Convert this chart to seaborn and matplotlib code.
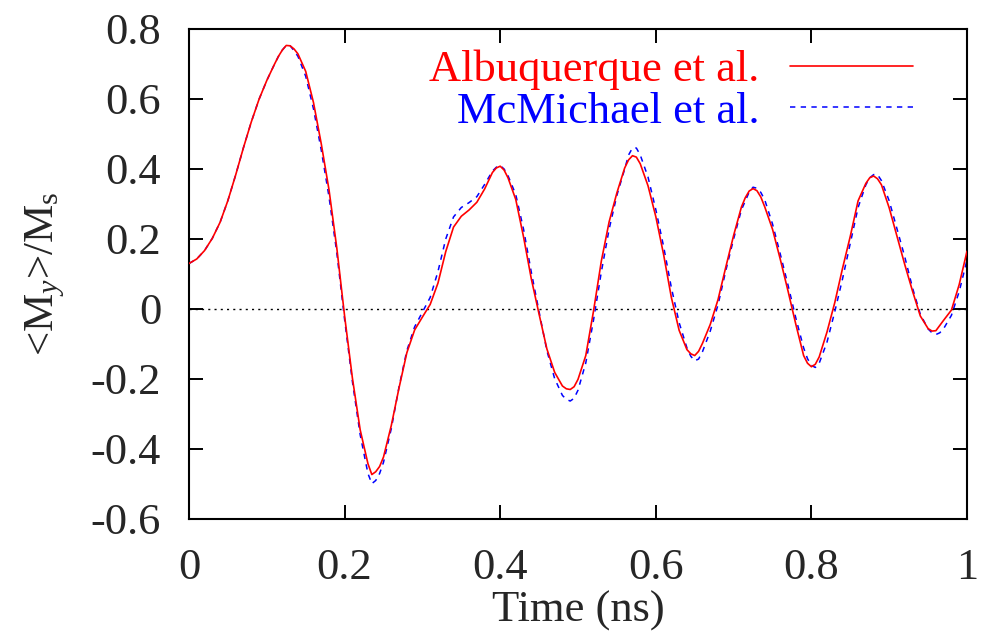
import numpy as np
import pandas as pd
import matplotlib
matplotlib.use("Agg")
import matplotlib.pyplot as plt
import seaborn as sns

# ---- data ----
time_ns = [round(i * 0.01, 2) for i in range(101)]

albuquerque = [
    0.130, 0.143, 0.167, 0.202, 0.248, 0.310, 0.383, 0.461, 0.534, 0.599,
    0.653, 0.700, 0.740, 0.752, 0.729, 0.679, 0.590, 0.472, 0.340, 0.174,
    -0.020, -0.197, -0.345, -0.442, -0.465, -0.423, -0.333, -0.225, -0.125, -0.060,
    -0.023, 0.013, 0.074, 0.164, 0.234, 0.265, 0.283, 0.305, 0.343, 0.390,
    0.408, 0.375, 0.313, 0.206, 0.086, -0.015, -0.114, -0.181, -0.220, -0.230,
    -0.201, -0.133, -0.005, 0.137, 0.249, 0.332, 0.403, 0.438, 0.415, 0.352,
    0.264, 0.156, 0.033, -0.061, -0.116, -0.133, -0.098, -0.044, 0.027, 0.120,
    0.210, 0.291, 0.337, 0.338, 0.292, 0.228, 0.142, 0.051, -0.044, -0.133,
    -0.165, -0.137, -0.066, 0.018, 0.116, 0.208, 0.309, 0.359, 0.380, 0.355,
    0.289, 0.208, 0.127, 0.051, -0.020, -0.056, -0.062, -0.032, -0.003, 0.070,
    0.165,
]
# extra readings around the turning points
albuquerque_extra_t = [0.115, 0.125, 0.135, 0.235, 0.245, 0.395, 0.405, 0.485, 0.495,
                       0.565, 0.575, 0.645, 0.655, 0.715, 0.725, 0.735, 0.795, 0.805,
                       0.875, 0.885, 0.955]
albuquerque_extra_v = [0.722, 0.753, 0.743, -0.473, -0.450, 0.403, 0.397, -0.228, -0.222,
                       0.426, 0.434, -0.128, -0.121, 0.318, 0.344, 0.320, -0.155, -0.158,
                       0.375, 0.372, -0.063]

mcmichael = [
    0.130, 0.143, 0.167, 0.202, 0.248, 0.310, 0.383, 0.461, 0.534, 0.599,
    0.653, 0.700, 0.740, 0.752, 0.722, 0.665, 0.572, 0.454, 0.320, 0.160,
    -0.030, -0.207, -0.359, -0.470, -0.490, -0.438, -0.342, -0.222, -0.119, -0.051,
    -0.009, 0.033, 0.107, 0.200, 0.263, 0.290, 0.304, 0.321, 0.356, 0.394,
    0.410, 0.381, 0.327, 0.228, 0.105, -0.008, -0.119, -0.199, -0.247, -0.263,
    -0.232, -0.154, -0.031, 0.106, 0.228, 0.325, 0.400, 0.460, 0.440, 0.377,
    0.284, 0.179, 0.061, -0.039, -0.111, -0.148, -0.122, -0.063, 0.012, 0.110,
    0.200, 0.283, 0.334, 0.345, 0.312, 0.243, 0.157, 0.068, -0.026, -0.111,
    -0.161, -0.155, -0.095, -0.008, 0.086, 0.188, 0.290, 0.355, 0.384, 0.367,
    0.309, 0.229, 0.149, 0.060, -0.015, -0.057, -0.073, -0.056, -0.018, 0.050,
    0.140,
]
mcmichael_extra_t = [0.115, 0.125, 0.135, 0.235, 0.245, 0.395, 0.405, 0.485, 0.495,
                     0.565, 0.575, 0.645, 0.655, 0.725, 0.735, 0.795, 0.805,
                     0.875, 0.885, 0.955, 0.965]
mcmichael_extra_v = [0.722, 0.753, 0.738, -0.499, -0.470, 0.405, 0.400, -0.258, -0.255,
                     0.440, 0.460, -0.135, -0.143, 0.348, 0.333, -0.142, -0.167,
                     0.375, 0.384, -0.068, -0.068]

series_labels = ["Albuquerque et al.", "McMichael et al."]
x_ticks = [0, 0.2, 0.4, 0.6, 0.8, 1]
x_ticklabels = ["0", "0.2", "0.4", "0.6", "0.8", "1"]
y_ticks = [-0.6, -0.4, -0.2, 0, 0.2, 0.4, 0.6, 0.8]
y_ticklabels = ["-0.6", "-0.4", "-0.2", "0", "0.2", "0.4", "0.6", "0.8"]

# ---- style ----
sns.set_style("ticks")
plt.rcParams["font.family"] = ["Liberation Serif", "DejaVu Serif"]
plt.rcParams["mathtext.fontset"] = "custom"
plt.rcParams["mathtext.rm"] = "Liberation Serif"
plt.rcParams["mathtext.it"] = "Liberation Serif:italic"
plt.rcParams["xtick.direction"] = "in"
plt.rcParams["ytick.direction"] = "in"

fig = plt.figure(figsize=(9.81, 6.35), dpi=100)
ax = fig.add_axes([189 / 981, 1 - 519 / 635, (967 - 189) / 981, (519 - 29) / 635])

df_a = pd.DataFrame({"t": time_ns + albuquerque_extra_t,
                     "v": albuquerque + albuquerque_extra_v})
df_m = pd.DataFrame({"t": time_ns + mcmichael_extra_t,
                     "v": mcmichael + mcmichael_extra_v})

ax.axhline(0, color="black", lw=1.0, ls=(0, (1.5, 3)), zorder=1)
sns.lineplot(data=df_a, x="t", y="v", ax=ax, color="#ff0000", lw=1.2,
             label=series_labels[0], zorder=3, sort=True)
sns.lineplot(data=df_m, x="t", y="v", ax=ax, color="#0000ff", lw=1.1,
             label=series_labels[1], zorder=2, sort=True)
ax.lines[-1].set_linestyle((0, (3.5, 3.5)))

ax.set_xlim(0, 1)
ax.set_ylim(-0.6, 0.8)
ax.set_xticks(x_ticks)
ax.set_xticklabels(x_ticklabels)
ax.set_yticks(y_ticks)
ax.set_yticklabels(y_ticklabels)
ax.tick_params(axis="both", which="both", direction="in", length=10, width=1.4,
               top=True, right=True, labelsize=32, color="black")
ax.tick_params(axis="y", pad=20)
ax.tick_params(axis="x", pad=21)
for s in ax.spines.values():
    s.set_linewidth(1.5)
    s.set_color("black")

ax.set_xlabel("Time (ns)", fontsize=32, labelpad=2)
ax.set_ylabel(r"<M$_{y}$>/M$_{\rm s}$", fontsize=31)
ax.yaxis.set_label_coords(-0.157, 0.5)

leg = ax.legend(loc="upper right", bbox_to_anchor=(0.93, 0.958), frameon=False,
                markerfirst=False, labelcolor="linecolor", fontsize=32,
                handlelength=2.75, handletextpad=0.7, labelspacing=0.04,
                borderaxespad=0, borderpad=0)

fig.savefig("out.png", dpi=100)
